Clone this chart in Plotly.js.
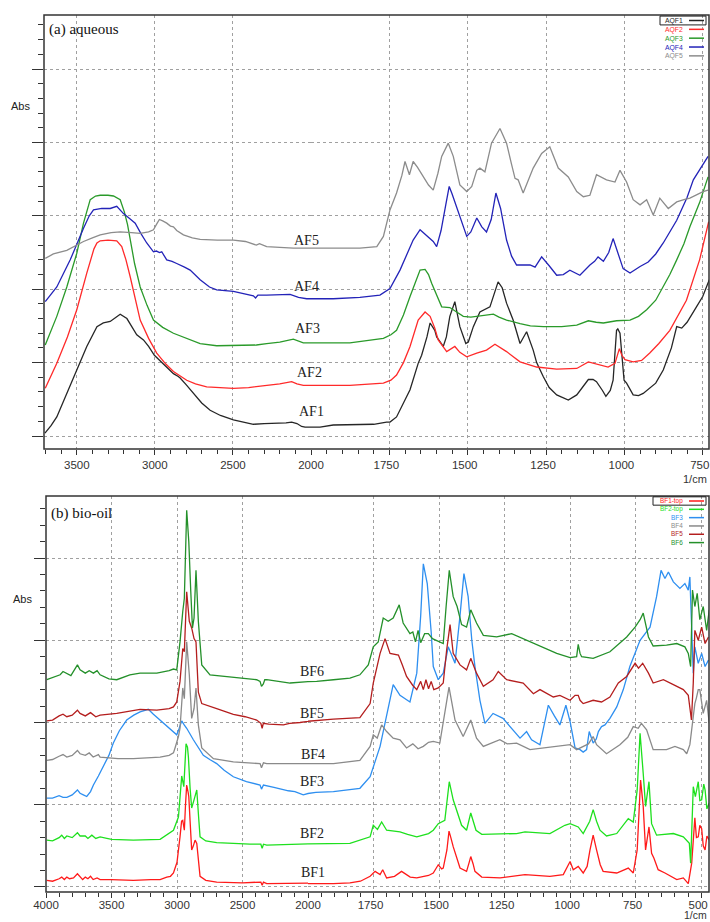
<!DOCTYPE html>
<html>
<head>
<meta charset="utf-8">
<script src="https://cdn.plot.ly/plotly-3.0.1.min.js"></script>
<style>
  html, body { margin: 0; padding: 0; background: #fff; }
  #chart { width: 710px; height: 922px; }
</style>
</head>
<body>
<div id="chart"></div>
<script>
// ---------- (a) aqueous fractions: wavenumber (1/cm) and absorbance (offset units) ----------
const af1Wn  = [3704,3665,3628,3564,3500,3436,3371,3330,3286,3250,3222,3179,3140,3116,3073,3040,3003,2940,2881,2850,2838,2800,2753,2700,2646,2580,2497,2430,2369,2300,2220,2160,2124,2090,2060,2038,1971,1929,1876,1844,1800,1759,1748,1727,1706,1684,1658,1647,1630,1620,1605,1599,1578,1568,1557,1541,1525,1506,1498,1482,1461,1445,1429,1403,1390,1376,1355,1333,1312,1291,1280,1259,1240,1216,1179,1152,1130,1115,1100,1089,1070,1059,1045,1036,1025,1021,1014,1001,993,972,955,940,900,876,850,833,817,800,770,750,729];
const af1Abs = [0.04,0.14,0.26,0.58,0.90,1.22,1.49,1.54,1.56,1.61,1.66,1.60,1.47,1.38,1.31,1.22,1.10,0.97,0.85,0.81,0.79,0.70,0.58,0.45,0.35,0.28,0.22,0.19,0.16,0.17,0.17,0.18,0.19,0.17,0.13,0.12,0.12,0.15,0.15,0.15,0.16,0.19,0.19,0.26,0.45,0.63,0.99,1.10,1.35,1.54,1.44,1.35,1.22,1.35,1.63,1.83,1.49,1.26,1.28,1.49,1.69,1.72,1.76,2.10,2.02,1.81,1.58,1.26,1.42,1.17,1.00,0.81,0.66,0.56,0.49,0.56,0.68,0.77,0.77,0.74,0.62,0.54,0.62,0.76,1.44,1.46,1.40,0.76,0.72,0.56,0.55,0.58,0.72,0.90,1.20,1.49,1.47,1.55,1.76,1.90,2.13];

const af2Wn  = [3702,3628,3560,3500,3436,3390,3371,3350,3300,3244,3212,3185,3158,3125,3094,3040,2988,2930,2881,2796,2740,2668,2580,2497,2400,2284,2200,2124,2090,2049,1929,1876,1769,1745,1727,1705,1684,1658,1636,1620,1605,1594,1567,1541,1525,1503,1471,1440,1413,1395,1376,1333,1280,1216,1152,1115,1089,1052,1030,1025,1016,1008,998,972,945,919,890,855,802,760,731];
const af2Abs = [0.65,0.99,1.35,1.72,2.22,2.55,2.63,2.66,2.67,2.66,2.58,2.40,2.17,1.85,1.58,1.33,1.13,0.98,0.88,0.76,0.71,0.67,0.66,0.65,0.66,0.69,0.71,0.74,0.71,0.69,0.69,0.69,0.72,0.76,0.83,1.00,1.22,1.58,1.69,1.63,1.47,1.31,1.15,1.22,1.14,1.08,1.13,1.17,1.25,1.20,1.15,1.01,0.94,0.91,0.92,1.01,0.98,0.94,0.99,1.06,1.19,1.10,1.04,1.01,1.03,1.13,1.26,1.44,1.85,2.40,2.92];

const af3Wn  = [3702,3628,3564,3500,3457,3414,3380,3350,3300,3265,3222,3195,3175,3158,3130,3094,3050,3009,2950,2881,2800,2710,2604,2500,2412,2350,2284,2200,2113,2080,2049,1929,1876,1769,1745,1727,1705,1684,1665,1652,1636,1625,1615,1600,1583,1557,1540,1514,1490,1471,1440,1418,1400,1376,1333,1300,1259,1200,1152,1115,1090,1067,1025,982,955,929,900,876,855,833,810,791,760,733];
const af3Abs = [1.24,1.63,2.03,2.49,2.90,3.22,3.27,3.28,3.28,3.27,3.22,3.05,2.88,2.67,2.35,2.03,1.78,1.58,1.48,1.40,1.33,1.26,1.23,1.23,1.24,1.24,1.26,1.28,1.32,1.29,1.27,1.27,1.27,1.33,1.38,1.44,1.65,1.90,2.12,2.26,2.27,2.20,2.08,1.92,1.76,1.75,1.70,1.63,1.62,1.63,1.64,1.66,1.62,1.58,1.53,1.50,1.49,1.49,1.51,1.57,1.55,1.54,1.57,1.58,1.63,1.72,1.85,2.03,2.20,2.40,2.62,2.85,3.18,3.53];

const af4Wn  = [3702,3628,3542,3500,3457,3420,3393,3340,3286,3244,3201,3160,3126,3090,3052,3009,2990,2970,2956,2924,2890,2860,2838,2810,2774,2740,2710,2650,2604,2497,2400,2369,2355,2340,2284,2200,2134,2080,2028,1929,1844,1780,1748,1716,1690,1674,1652,1630,1610,1599,1585,1570,1559,1550,1535,1515,1503,1490,1471,1455,1440,1425,1410,1395,1376,1360,1344,1320,1301,1285,1264,1240,1216,1195,1174,1142,1110,1095,1084,1067,1050,1036,1020,1004,982,950,924,900,876,850,833,800,780,733];
const af4Abs = [1.83,2.03,2.40,2.62,2.83,3.00,3.08,3.10,3.10,3.13,3.03,2.96,2.90,2.76,2.63,2.51,2.52,2.50,2.51,2.40,2.38,2.35,2.33,2.30,2.26,2.19,2.13,2.03,1.99,1.97,1.92,1.91,1.88,1.92,1.92,1.92,1.93,1.89,1.87,1.87,1.89,1.92,2.01,2.26,2.50,2.67,2.81,2.72,2.65,2.58,2.80,3.15,3.40,3.30,3.12,2.88,2.72,2.78,2.97,2.85,2.78,2.95,3.31,3.10,2.67,2.45,2.33,2.33,2.33,2.30,2.44,2.32,2.19,2.20,2.26,2.19,2.33,2.38,2.44,2.38,2.50,2.69,2.49,2.28,2.22,2.31,2.37,2.48,2.63,2.82,2.94,3.25,3.49,3.81];

const af5Wn  = [3702,3650,3564,3500,3457,3400,3350,3280,3222,3150,3094,3040,3009,2985,2971,2950,2924,2900,2881,2860,2817,2760,2710,2600,2497,2420,2369,2350,2330,2284,2200,2113,1971,1844,1790,1769,1748,1727,1710,1700,1686,1674,1660,1642,1625,1610,1595,1583,1562,1546,1535,1525,1503,1487,1471,1461,1445,1424,1397,1376,1360,1349,1339,1323,1291,1264,1238,1225,1211,1179,1152,1131,1110,1089,1073,1057,1030,1014,993,972,950,929,908,887,860,833,810,791,749,733];
const af5Abs = [2.42,2.48,2.53,2.60,2.65,2.70,2.74,2.77,2.78,2.77,2.76,2.78,2.81,2.90,2.95,2.93,2.90,2.86,2.85,2.80,2.74,2.70,2.68,2.67,2.67,2.65,2.62,2.60,2.62,2.58,2.57,2.56,2.56,2.56,2.58,2.72,3.08,3.31,3.55,3.74,3.56,3.74,3.66,3.53,3.42,3.35,3.58,3.81,3.99,3.81,3.60,3.42,3.33,3.40,3.62,3.65,3.60,3.99,4.19,3.99,3.70,3.51,3.49,3.31,3.65,3.85,3.94,3.80,3.65,3.53,3.33,3.26,3.28,3.56,3.52,3.49,3.46,3.62,3.46,3.22,3.15,3.22,3.01,3.24,3.10,3.19,3.22,3.24,3.33,3.35];

// ---------- (b) bio-oil fractions ----------
const bf1Wn  = [3994,3950,3900,3880,3860,3841,3820,3790,3760,3740,3720,3700,3680,3660,3640,3610,3587,3500,3400,3333,3200,3129,3078,3050,3027,3000,2977,2965,2956,2944,2935,2926,2915,2910,2900,2888,2875,2862,2849,2835,2824,2780,2697,2500,2360,2350,2340,2315,2100,1903,1840,1800,1763,1744,1725,1715,1700,1670,1643,1610,1585,1540,1522,1503,1490,1484,1470,1462,1455,1446,1420,1395,1385,1379,1370,1363,1337,1267,1172,1077,1026,1000,988,969,950,935,924,912,899,885,874,822,778,759,744,731,721,712,699,689,680,664,638,593,568,549,536,524,518,511,505,498,492,485,478,469];
const bf1Abs = [0.08,0.07,0.10,0.12,0.09,0.12,0.10,0.11,0.16,0.12,0.09,0.12,0.10,0.13,0.09,0.11,0.09,0.09,0.08,0.08,0.09,0.09,0.12,0.13,0.17,0.30,0.61,0.80,0.81,0.69,1.00,1.24,1.15,1.10,0.80,0.45,0.50,0.57,0.53,0.30,0.13,0.08,0.06,0.05,0.06,0.02,0.06,0.04,0.04,0.04,0.05,0.07,0.13,0.19,0.15,0.21,0.11,0.13,0.19,0.12,0.11,0.14,0.17,0.27,0.22,0.23,0.45,0.68,0.60,0.49,0.23,0.19,0.30,0.37,0.28,0.19,0.12,0.11,0.15,0.13,0.15,0.31,0.21,0.25,0.17,0.25,0.45,0.63,0.45,0.27,0.19,0.17,0.23,0.17,0.45,1.30,0.98,0.45,0.73,0.41,0.35,0.21,0.17,0.09,0.11,0.04,0.29,0.84,0.60,0.61,0.75,0.71,0.50,0.45,0.62,0.57];

const bf2Wn  = [3994,3950,3900,3880,3860,3841,3800,3760,3740,3700,3680,3650,3620,3587,3500,3333,3129,3078,3027,2989,2975,2964,2948,2940,2931,2920,2913,2900,2888,2870,2849,2835,2824,2780,2697,2443,2360,2350,2340,2315,2061,1903,1840,1763,1751,1735,1719,1700,1649,1620,1585,1540,1522,1503,1478,1461,1446,1414,1395,1379,1359,1337,1204,1172,1077,1020,1000,969,950,925,912,899,886,861,822,778,759,744,733,721,712,699,689,670,606,568,545,540,535,530,522,511,505,498,490,485,478,469];
const bf2Abs = [0.57,0.56,0.60,0.63,0.59,0.62,0.60,0.66,0.62,0.62,0.59,0.63,0.59,0.61,0.58,0.57,0.58,0.63,0.69,0.85,1.10,1.35,1.22,1.45,1.74,1.70,1.58,1.20,0.96,1.06,1.18,0.85,0.61,0.56,0.54,0.52,0.52,0.47,0.52,0.51,0.52,0.52,0.53,0.61,0.75,0.70,0.79,0.69,0.67,0.64,0.61,0.65,0.69,0.77,0.81,1.28,1.06,0.75,0.69,0.90,0.69,0.64,0.65,0.67,0.65,0.75,0.77,0.73,0.65,0.80,0.94,0.80,0.69,0.62,0.65,0.83,0.79,1.18,1.87,1.38,0.98,1.28,0.77,0.63,0.65,0.61,0.53,0.29,0.70,1.22,1.10,1.28,1.05,1.06,1.25,1.18,0.95,1.02];

const bf3Wn  = [3994,3950,3900,3870,3841,3800,3760,3740,3715,3689,3660,3638,3600,3562,3520,3486,3440,3384,3330,3282,3219,3180,3129,3090,3053,3002,2985,2964,2945,2926,2875,2840,2799,2750,2697,2640,2570,2470,2366,2355,2340,2260,2188,2150,2100,2036,1970,1903,1802,1763,1725,1700,1675,1649,1611,1585,1570,1560,1545,1530,1522,1503,1484,1465,1439,1420,1405,1389,1375,1363,1344,1325,1294,1256,1220,1191,1166,1147,1115,1083,1060,1039,1016,1000,981,962,950,937,927,912,900,892,880,867,848,822,797,772,733,695,670,653,638,625,606,581,562,549,543,537,530,524,511,498,485,472];
const bf3Abs = [1.08,1.08,1.11,1.09,1.09,1.12,1.18,1.14,1.12,1.10,1.16,1.24,1.35,1.46,1.60,1.75,1.90,2.03,2.09,2.13,2.16,2.10,2.03,1.98,1.93,1.85,1.92,2.02,1.97,1.93,1.79,1.70,1.60,1.55,1.50,1.42,1.34,1.28,1.24,1.19,1.24,1.21,1.18,1.17,1.16,1.12,1.15,1.16,1.20,1.34,1.71,2.10,2.46,2.33,2.25,2.60,3.30,3.93,3.69,3.10,2.68,2.52,2.60,2.92,2.72,3.30,3.81,3.53,3.00,2.68,2.27,1.99,2.11,2.05,1.92,1.81,1.89,1.79,1.73,2.21,2.08,1.97,2.21,2.01,1.69,1.67,1.64,1.67,1.89,1.75,1.80,1.89,1.95,1.97,2.05,2.19,2.40,2.68,3.00,3.16,3.53,3.85,3.75,3.83,3.71,3.63,3.69,3.61,3.77,3.25,2.60,2.92,2.72,2.84,2.68,2.76];

const bf4Wn  = [3994,3950,3900,3870,3841,3800,3760,3740,3700,3670,3640,3600,3587,3450,3333,3200,3129,3060,3027,3015,2989,2977,2956,2944,2926,2906,2888,2870,2855,2837,2811,2722,2570,2366,2355,2340,2315,2061,1903,1802,1763,1751,1736,1719,1700,1675,1649,1624,1600,1580,1560,1540,1522,1497,1481,1462,1439,1408,1379,1357,1331,1300,1268,1240,1204,1153,1100,1064,1000,975,962,930,912,899,861,810,780,759,740,728,708,683,632,600,568,555,543,533,524,518,511,505,492,479,469];
const bf4Abs = [1.54,1.55,1.59,1.61,1.58,1.60,1.66,1.62,1.60,1.63,1.58,1.61,1.58,1.56,1.56,1.57,1.58,1.60,1.63,1.69,1.83,1.93,2.42,2.29,2.98,2.58,2.05,2.17,2.42,1.97,1.69,1.56,1.52,1.50,1.45,1.51,1.50,1.50,1.50,1.54,1.71,1.85,1.81,1.97,1.89,1.81,1.79,1.69,1.74,1.68,1.71,1.76,1.77,1.75,2.07,2.43,2.03,1.83,2.03,1.81,1.71,1.75,1.79,1.74,1.75,1.67,1.69,1.71,1.73,1.67,1.69,1.74,1.83,1.73,1.62,1.73,1.82,1.95,1.93,1.99,1.91,1.67,1.67,1.71,1.67,1.62,1.73,1.99,2.23,2.30,2.40,2.40,2.11,2.27,1.99];

const bf5Wn  = [3994,3950,3900,3870,3841,3800,3760,3740,3700,3660,3620,3587,3460,3360,3282,3154,3060,3027,3002,2977,2956,2944,2926,2906,2888,2870,2855,2837,2811,2697,2570,2480,2392,2360,2350,2341,2300,2188,2140,2061,1903,1802,1763,1751,1725,1706,1687,1655,1640,1624,1600,1585,1570,1560,1550,1540,1530,1520,1503,1484,1471,1458,1446,1420,1395,1379,1357,1331,1294,1274,1242,1179,1140,1115,1064,1039,1000,981,969,962,950,912,880,848,816,784,752,739,723,701,683,644,606,568,549,537,530,524,511,498,485,472];
const bf5Abs = [2.02,2.03,2.08,2.10,2.07,2.09,2.15,2.11,2.08,2.12,2.07,2.09,2.11,2.14,2.16,2.15,2.17,2.19,2.25,2.50,2.90,2.86,3.59,3.23,3.15,3.02,2.98,2.37,2.23,2.17,2.10,2.07,2.03,1.99,1.93,1.99,1.98,1.97,1.99,2.00,2.04,2.06,2.23,2.48,2.84,3.02,2.84,2.82,2.70,2.56,2.45,2.40,2.50,2.40,2.52,2.41,2.50,2.40,2.42,2.48,2.88,3.19,2.84,2.70,2.64,2.78,2.60,2.44,2.52,2.62,2.52,2.48,2.35,2.40,2.31,2.33,2.27,2.33,2.33,2.27,2.23,2.27,2.25,2.31,2.48,2.56,2.72,2.66,2.72,2.60,2.48,2.52,2.46,2.40,2.33,2.03,2.48,3.12,3.00,3.16,2.96,3.04];

const bf6Wn  = [3994,3950,3892,3870,3841,3810,3760,3740,3700,3670,3638,3610,3587,3520,3460,3360,3282,3154,3060,3027,3002,2977,2956,2944,2926,2910,2895,2882,2870,2855,2837,2811,2748,2570,2392,2366,2355,2341,2330,2315,2137,1967,1903,1840,1802,1770,1751,1732,1713,1694,1675,1652,1637,1611,1600,1590,1580,1570,1555,1541,1525,1509,1484,1473,1461,1446,1431,1414,1395,1379,1357,1331,1280,1223,1166,1115,1051,1000,975,969,962,956,912,848,784,752,733,721,701,683,632,593,562,549,540,533,524,515,505,492,479,469];
const bf6Abs = [2.52,2.55,2.58,2.62,2.60,2.57,2.70,2.64,2.60,2.63,2.60,2.63,2.58,2.53,2.52,2.58,2.60,2.60,2.63,2.65,2.64,2.98,3.35,3.51,4.58,4.20,3.60,3.15,3.27,3.85,3.23,2.70,2.58,2.55,2.52,2.50,2.44,2.47,2.52,2.52,2.48,2.50,2.52,2.54,2.58,2.70,2.92,2.98,3.27,3.23,3.27,3.43,3.21,3.08,3.10,2.98,3.12,2.97,3.08,3.08,3.02,3.00,2.96,3.41,3.85,3.53,3.41,3.19,3.16,3.37,3.21,3.06,3.04,3.08,3.00,2.92,2.84,2.79,2.80,2.95,2.84,2.80,2.78,2.86,3.04,3.16,3.25,3.33,3.04,2.93,2.94,2.96,2.92,2.84,2.68,3.61,3.41,3.57,3.25,3.41,3.12,3.37];

// ---------- series lists ----------
const aqNames  = ['AQF1', 'AQF2', 'AQF3', 'AQF4', 'AQF5'];
const aqLabels = ['AF1', 'AF2', 'AF3', 'AF4', 'AF5'];
const aqColors = ['#262626', '#ff2a2a', '#2a9a2a', '#2323b8', '#8c8c8c'];
const aqWn  = [af1Wn, af2Wn, af3Wn, af4Wn, af5Wn];
const aqAbs = [af1Abs, af2Abs, af3Abs, af4Abs, af5Abs];

const boNames  = ['BF1-top', 'BF2-top', 'BF3', 'BF4', 'BF5', 'BF6'];
const boLabels = ['BF1', 'BF2', 'BF3', 'BF4', 'BF5', 'BF6'];
const boColors = ['#ff1a1a', '#1ee01e', '#2e8ff0', '#8a8a8a', '#b41e1e', '#24902a'];
const boWn  = [bf1Wn, bf2Wn, bf3Wn, bf4Wn, bf5Wn, bf6Wn];
const boAbs = [bf1Abs, bf2Abs, bf3Abs, bf4Abs, bf5Abs, bf6Abs];

// tick labels (the scale below 2000 1/cm is expanded twofold, so each panel uses two x axes)
const aHighTicks = [3500, 3000, 2500, 2000];
const aLowTicks  = [1750, 1500, 1250, 1000, 750];
const bHighTicks = [4000, 3500, 3000, 2500, 2000];
const bLowTicks  = [1750, 1500, 1250, 1000, 750, 500];

// ---------- page geometry helpers ----------
const W = 710, H = 922;
const fx = px => px / W;
const fy = py => 1 - py / H;

const traces = [];
function addSpectrum(wn, ab, color, xa1, xa2, ya) {
  [xa1, xa2].forEach(xa => traces.push({
    type: 'scatter', mode: 'lines', x: wn, y: ab,
    xaxis: xa, yaxis: ya,
    line: { color: color, width: 1.3 },
    hoverinfo: 'skip', showlegend: false
  }));
}
aqWn.forEach((wn, i) => addSpectrum(wn, aqAbs[i], aqColors[i], 'x', 'x2', 'y'));
boWn.forEach((wn, i) => addSpectrum(wn, boAbs[i], boColors[i], 'x3', 'x4', 'y2'));

const sans = 'Liberation Sans, Arial, sans-serif';
const serif = 'Liberation Serif, Times New Roman, serif';
const tickCol = '#333';

// the axes run from high to low wavenumber, so a positive label shift moves labels to the left
function xAxis(domain, range, tickvals, minorStep, anchor, shift, standoff) {
  return {
    domain: domain, range: range, anchor: anchor,
    tickmode: 'array', tickvals: tickvals, ticktext: tickvals.map(String),
    ticklabeloverflow: 'allow', ticklabelshift: shift, ticklabelstandoff: standoff,
    ticks: 'outside', ticklen: 5, tickwidth: 1, tickcolor: tickCol,
    minor: { dtick: minorStep, tick0: 0, ticks: 'outside', ticklen: 4, tickwidth: 1, tickcolor: tickCol, showgrid: false },
    showgrid: true, gridcolor: '#a0a0a0', griddash: 'dot', gridwidth: 1,
    zeroline: false, showline: false,
    tickfont: { family: sans, size: 11.5, color: '#333' }
  };
}
function yAxis(domain, range, majors, anchor) {
  return {
    domain: domain, range: range, anchor: anchor,
    tickmode: 'array', tickvals: majors, showticklabels: false,
    ticks: 'outside', ticklen: 11, tickwidth: 1, tickcolor: tickCol,
    minor: { dtick: 0.2, tick0: 0, ticks: 'outside', ticklen: 5, tickwidth: 1, tickcolor: tickCol, showgrid: false },
    showgrid: true, gridcolor: '#a0a0a0', griddash: 'dot', gridwidth: 1,
    zeroline: false, showline: false
  };
}

// plot frames (pixels): (a) 44..709 x 15..449, (b) 46..709 x 496..892
const layout = {
  width: W, height: H,
  margin: { l: 0, r: 0, t: 0, b: 0 },
  paper_bgcolor: '#fff', plot_bgcolor: '#fff',
  showlegend: false,
  xaxis:  xAxis([fx(44), fx(311)], [3710, 2000], aHighTicks, 100, 'y', 0, 0),
  xaxis2: xAxis([fx(311), fx(709)], [2000, 730], aLowTicks, 50, 'y', 3, 0),
  xaxis3: xAxis([fx(46), fx(308)], [4000, 2000], bHighTicks, 100, 'y2', 0, -3),
  xaxis4: xAxis([fx(308), fx(709)], [2000, 470], bLowTicks, 50, 'y2', 3, -3),
  yaxis:  yAxis([fy(449), fy(15)], [-0.177, 5.736], [0, 1, 2, 3, 4, 5], 'x'),
  yaxis2: yAxis([fy(892), fy(496)], [-0.061, 4.754], [0, 1, 2, 3, 4], 'x3'),
  shapes: [], annotations: []
};

const S = layout.shapes, A = layout.annotations;
function frame(x0, y0, x1, y1) {
  S.push({ type: 'rect', xref: 'paper', yref: 'paper', x0: fx(x0), x1: fx(x1), y0: fy(y1), y1: fy(y0),
           line: { color: '#333', width: 1.5 }, fillcolor: 'rgba(0,0,0,0)', layer: 'above' });
}
frame(44, 15, 709, 449);
frame(46, 496, 709, 892);

function text(px, py, str, opts) {
  A.push(Object.assign({ xref: 'paper', yref: 'paper', x: fx(px), y: fy(py), text: str, showarrow: false,
                         xanchor: 'left', yanchor: 'middle' }, opts));
}

// axis captions
text(20, 106, 'Abs', { xanchor: 'center', font: { family: sans, size: 11, color: '#222' } });
text(22, 599, 'Abs', { xanchor: 'center', font: { family: sans, size: 11, color: '#222' } });
text(708, 479, '1/cm', { xanchor: 'right', borderpad: 0, font: { family: sans, size: 11, color: '#333' } });
text(708, 922, '1/cm', { xanchor: 'right', yanchor: 'bottom', borderpad: 0, font: { family: sans, size: 10.5, color: '#333' } });

// panel captions
text(47, 30, '(a) aqueous', { font: { family: serif, size: 15, color: '#111' } });
text(49, 513, '(b) bio-oil', { font: { family: serif, size: 15, color: '#111' } });

// curve labels
const aqLabelPos = [[311, 411], [309, 373], [307, 328], [306, 286], [306, 240]];
aqLabels.forEach((t, i) => text(aqLabelPos[i][0], aqLabelPos[i][1], t,
  { xanchor: 'center', font: { family: serif, size: 14, color: '#222' } }));
const boLabelPos = [[313, 872], [312, 833], [312, 781], [313, 754], [312, 713], [312, 671]];
boLabels.forEach((t, i) => text(boLabelPos[i][0], boLabelPos[i][1], t,
  { xanchor: 'center', font: { family: serif, size: 14, color: '#222' } }));

// compact legends in the upper-right corners: one multi-line text block, line samples to its right
function legendBlock(names, colors, topY, fontSize, boxX0) {
  const step = fontSize * 1.3;
  const n = names.length;
  const midY = topY + step * (n - 1) / 2;
  const html = names.map((nm, i) => '<span style="color:' + colors[i] + '">' + nm + '</span>').join('<br>');
  text(684, midY, html, { xanchor: 'right', align: 'right', borderpad: 0,
                          font: { family: sans, size: fontSize, color: '#222' } });
  names.forEach((nm, i) => {
    const yy = topY + i * step;
    S.push({ type: 'line', xref: 'paper', yref: 'paper', x0: fx(689), x1: fx(704), y0: fy(yy), y1: fy(yy),
             line: { color: colors[i], width: 1.5 } });
  });
  S.push({ type: 'rect', xref: 'paper', yref: 'paper', x0: fx(boxX0), x1: fx(706),
           y0: fy(topY + step / 2), y1: fy(topY - step / 2),
           line: { color: '#222', width: 1 }, fillcolor: 'rgba(0,0,0,0)' });
}
legendBlock(aqNames, aqColors, 20.5, 6.8, 660);
legendBlock(boNames, boColors, 501, 6.4, 653);

Plotly.newPlot('chart', traces, layout, { staticPlot: true, displayModeBar: false });
</script>
</body>
</html>
